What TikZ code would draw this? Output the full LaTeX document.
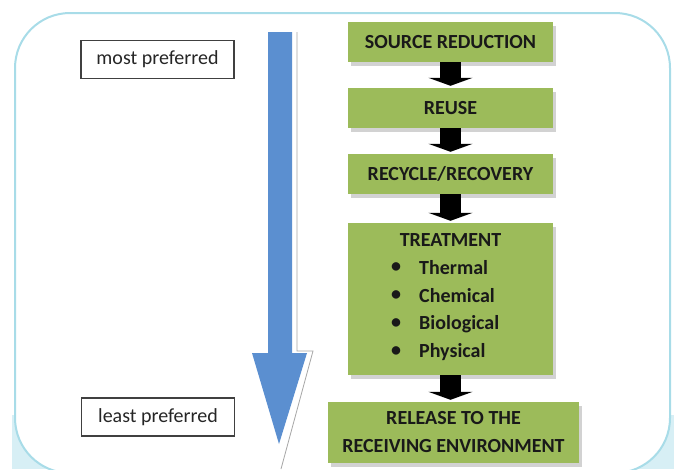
\documentclass[tikz,border=0pt]{standalone}
\usepackage{fontspec}
\setmainfont{Carlito}
\usetikzlibrary{arrows.meta,positioning,calc,shadows}

\definecolor{framecol}{HTML}{A8DCE8}
\definecolor{bgcol}{HTML}{D7EFF5}
\definecolor{stepgreen}{HTML}{9CBB5A}
\definecolor{prefblue}{HTML}{5B8FD0}

\tikzset{
  stepbox/.style={draw=none,fill=stepgreen,minimum width=205pt,minimum height=40pt,
    inner sep=0pt,font=\fontsize{20}{28}\selectfont\bfseries,text=black!90,
    general shadow={fill=gray!35,shadow xshift=3pt,shadow yshift=-4pt}},
  prefbox/.style={draw=black!75,line width=1.6pt,fill=white,minimum width=153pt,
    minimum height=38pt,inner sep=0pt,font=\fontsize{20}{22}\selectfont,text=black!85},
  flowarrow/.style={line width=21pt,-{Triangle[length=8pt,width=44pt]},black,shorten >=2pt},
}

\begin{document}
\begin{tikzpicture}[x=1pt,y=-1pt]
  \useasboundingbox (0,0) rectangle (674,469);
  % frame
  \fill[bgcol] (12,415) rectangle (674,469);
  \fill[white,rounded corners=55pt] (15,13) rectangle (670,473);
  \draw[framecol,line width=2pt,rounded corners=55pt] (15,13) rectangle (670,473);

  % preference arrow
  \fill[prefblue] (268,32) -- (292,32) -- (292,353) -- (307,353) -- (279,444)
    -- (252,353) -- (268,353) -- cycle;
  \draw[gray!70,line width=0.8pt] (297,32) -- (297,351) -- (313,351) -- (281,469);

  \node[prefbox] (most) at (157.5,59.5) {most preferred};
  \node[prefbox] (least) at (158,417) {least preferred};

  % hierarchy steps
  \node[stepbox] (src) at (450.5,42) {SOURCE REDUCTION};
  \node[stepbox] (reuse) at (450.5,108) {REUSE};
  \node[stepbox] (recyc) at (450.5,174) {RECYCLE/RECOVERY};
  \node[stepbox,minimum height=152pt] (treat) at (450.5,299) {};
  \node[stepbox,minimum width=251pt,minimum height=61pt,align=center] (rel) at (453.5,432.5)
    {RELEASE TO THE\\RECEIVING ENVIRONMENT};

  \node[font=\fontsize{20}{22}\selectfont\bfseries,text=black!90] (treattitle) at (450.5,240) {TREATMENT};
  \foreach \name [count=\i] in {Thermal,Chemical,Biological,Physical} {
    \node[font=\fontsize{20}{22}\selectfont\bfseries,text=black!90] (dot\i) at (396,240+28*\i) {•};
    \node[font=\fontsize{20}{22}\selectfont\bfseries,text=black!90,anchor=west,inner xsep=0pt]
      (item\i) at (419,240+28*\i) {\name};
  }

  \draw[flowarrow] (src.south) -- (reuse.north);
  \draw[flowarrow] (reuse.south) -- (recyc.north);
  \draw[flowarrow] (recyc.south) -- (treat.north);
  \draw[flowarrow] (treat.south) -- (treat.south |- rel.north);
\end{tikzpicture}
\end{document}
